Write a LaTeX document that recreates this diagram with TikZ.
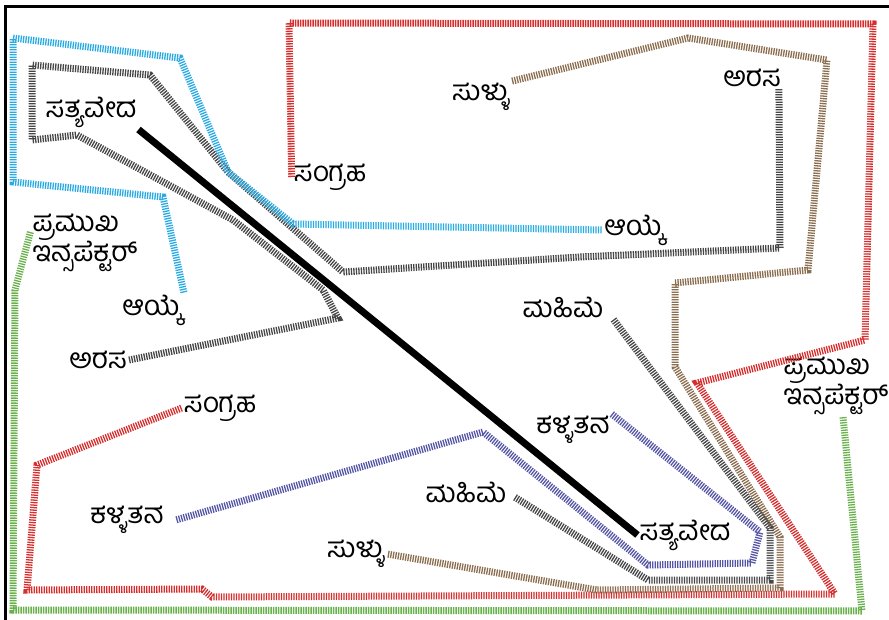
\documentclass[tikz,border=0pt]{standalone}
\usepackage{fontspec}
\newfontfamily\kannada[Script=Kannada]{Hind Mysuru}
\usepackage{tikz}
\usetikzlibrary{positioning, calc}

\definecolor{skyline}{RGB}{41,170,226}
\definecolor{redline}{RGB}{214,45,45}
\definecolor{grayline}{RGB}{70,70,70}
\definecolor{brownline}{RGB}{139,109,79}
\definecolor{greenline}{RGB}{106,176,76}
\definecolor{indigoline}{RGB}{85,85,165}

\begin{document}
\begin{tikzpicture}[x=1pt, y=-1pt,
    lbl/.style={font=\kannada\fontsize{28}{30}\selectfont, inner sep=2pt},
    hatch/.style={line width=7pt, dash pattern=on 1.3pt off 1.2pt}
]
    \useasboundingbox (0,0) rectangle (889,620);

    % Frame
    \draw[line width=3pt] (5,620) |- (889,7);

    % Labels
    \node[lbl] (satyaL) at (91,112) {ಸತ್ಯವೇದ};
    \node[lbl] (satyaR) at (685,535) {ಸತ್ಯವೇದ};
    \node[lbl] (arasaR) at (752,78) {ಅರಸ};
    \node[lbl] (arasaL) at (98,360) {ಅರಸ};
    \node[lbl] (aaykeR) at (634,230) {ಆಯ್ಕೆ};
    \node[lbl] (aaykeL) at (152,310) {ಆಯ್ಕೆ};
    \node[lbl] (sangT) at (330,177) {ಸಂಗ್ರಹ};
    \node[lbl] (sangL) at (220,408) {ಸಂಗ್ರಹ};
    \node[lbl] (sulluT) at (481,97) {ಸುಳ್ಳು};
    \node[lbl] (sulluB) at (356,554) {ಸುಳ್ಳು};
    \node[lbl] (mahimeR) at (563,307) {ಮಹಿಮೆ};
    \node[lbl] (mahimeB) at (466,492) {ಮಹಿಮೆ};
    \node[lbl] (kallaR) at (573,430) {ಕಳ್ಳತನ};
    \node[lbl] (kallaL) at (127,520) {ಕಳ್ಳತನ};
    \node[lbl, align=left] (inspL) at (85,243) {ಪ್ರಮುಖ\\ಇನ್ಸಪೆಕ್ಟರ್};
    \node[lbl, align=left] (inspR) at (836,386) {ಪ್ರಮುಖ\\ಇನ್ಸಪೆಕ್ಟರ್};

    % Hatched links
    \draw[hatch, grayline] ([xshift=-4pt]arasaR.south east) -- (780,248) -- (580,257) -- (343,272) -- (228,172)
        -- (150,75) -- (32,65) -- (32,140) -- (77,135) -- (233,220) -- (323,290) -- (338,318) -- (arasaL.east);
    \draw[hatch, skyline] (aaykeL.north east) -- (163,197) -- (13,182) -- (13,38) -- (180,58)
        -- (228,172) -- (293,224) -- (aaykeR.west);
    \draw[hatch, redline] (sangT.west) -- (289,23) -- (873,24) -- (865,340) -- (697,383) -- (835,594)
        -- (212,597) -- (202,589) -- (27,590) -- (37,465) -- (sangL.west);
    \draw[hatch, brownline] (sulluT.north east) -- (688,38) -- (827,60) -- (808,270) -- (675,283)
        -- (675,367) -- (780,537) -- (780,588) -- (597,590) -- (sulluB.east);
    \draw[hatch, grayline] ([xshift=8pt]mahimeR.south east) -- (770,528) -- (770,580) -- (648,580) -- ([xshift=6pt,yshift=-5pt]mahimeB.east);
    \draw[hatch, indigoline] (kallaR.north east) -- (760,532) -- (752,563) -- (648,565) -- (483,432)
        -- ([xshift=10pt]kallaL.east);
    \draw[hatch, greenline] ([yshift=11pt]inspL.west) -- (15,290) -- (13,610) -- (862,611) -- ([xshift=7pt]inspR.south);

    % Main link
    \draw[line width=7pt] (satyaL.south east) -- (satyaR.west);
\end{tikzpicture}
\end{document}
